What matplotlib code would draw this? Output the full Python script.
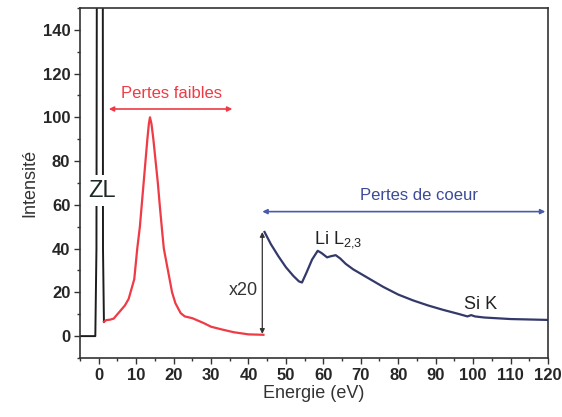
import matplotlib
matplotlib.use("Agg")
import matplotlib.pyplot as plt
from matplotlib.ticker import MultipleLocator

plt.rcParams['font.family'] = ['Liberation Sans', 'DejaVu Sans']
plt.rcParams['mathtext.fontset'] = 'custom'
plt.rcParams['mathtext.rm'] = 'Liberation Sans'
plt.rcParams['mathtext.it'] = 'Liberation Sans'

# zero loss peak (black)
zl_x = [-5, -0.9, -0.6, -0.5, 1.1, 1.15, 1.4]
zl_y = [0, 0, 40, 160, 160, 40, 6.5]

# low loss region (red)
low_x = [1.4, 2, 3, 4, 5, 6, 7, 8, 8.5, 9.5, 10.3, 11, 11.5, 12, 12.5, 13, 13.4, 13.7, 14.1, 14.6, 15.2, 15.8, 16.3, 17, 17.4, 18.5, 19.6, 20.5, 21.9, 23, 25, 28, 30, 33, 36, 40, 44]
low_y = [6.5, 7.3, 7.5, 8, 10, 12, 14, 17, 20, 26, 40, 50, 60, 70, 80, 90, 97, 100, 97, 90, 80, 70, 60, 47, 40, 30, 20, 15, 10.5, 9, 8.2, 6, 4.3, 3, 1.8, 0.8, 0.6]

# core loss region x20 (blue)
core_x = [44.3, 46, 48, 50, 52, 53.5, 54.3, 55.5, 57, 58.5, 59.5, 61, 62, 63.3, 64.5, 66, 68, 70, 73, 76, 80, 84, 88, 92, 96, 98.5, 99.5, 100.5, 103, 106, 110, 115, 120]
core_y = [47.6, 42, 36.5, 31.5, 27.5, 25, 24.5, 29, 35, 39, 38, 36, 36.5, 37, 35.5, 33, 30.5, 28.5, 25.5, 22.5, 19, 16.3, 14, 12, 10.2, 9, 9.6, 9, 8.5, 8.2, 7.8, 7.6, 7.4]

fig = plt.figure(figsize=(5.62, 4.17), dpi=100)
ax = fig.add_axes([0.1423, 0.1415, 0.8327, 0.8395])

ax.plot(zl_x, zl_y, color='#1c1c1c', lw=1.4, zorder=2)
ax.plot(low_x, low_y, color='#ee3b45', lw=1.6, zorder=2)
ax.plot(core_x, core_y, color='#33396a', lw=1.6, zorder=2)

ax.set_xlim(-5, 120)
ax.set_ylim(-10, 150)
ax.xaxis.set_major_locator(MultipleLocator(10))
ax.xaxis.set_minor_locator(MultipleLocator(5))
ax.yaxis.set_minor_locator(MultipleLocator(10))
ax.set_yticks(range(0, 141, 20))
ax.tick_params(which='major', direction='out', length=4, width=1, color='#333333',
               labelsize=12, labelcolor='#262626', pad=3)
ax.tick_params(which='minor', direction='out', length=2.5, width=1, color='#333333')
for lab in ax.get_xticklabels() + ax.get_yticklabels():
    lab.set_fontweight('bold')
for s in ax.spines.values():
    s.set_color('#333333')
    s.set_linewidth(1.2)

ax.set_xlabel('Energie (eV)', fontsize=13, color='#333333', labelpad=2)
ax.set_ylabel('Intensité', fontsize=13, color='#333333', labelpad=3)

# annotations
ax.annotate('', xy=(2.7, 103.8), xytext=(35.7, 103.8),
            arrowprops=dict(arrowstyle='<|-|>', color='#ee3b45', lw=1.2, mutation_scale=7,
                            shrinkA=0, shrinkB=0))
ax.text(19.5, 107.5, 'Pertes faibles', color='#ee3b45', fontsize=12, ha='center', va='bottom')

ax.annotate('', xy=(43.7, 56.9), xytext=(119.3, 56.9),
            arrowprops=dict(arrowstyle='<|-|>', color='#4a5aa8', lw=1.2, mutation_scale=7,
                            shrinkA=0, shrinkB=0))
ax.text(85.5, 61, 'Pertes de coeur', color='#3c4a98', fontsize=12, ha='center', va='bottom')

ax.annotate('', xy=(43.7, 47.6), xytext=(43.7, 1.0),
            arrowprops=dict(arrowstyle='<|-|>', color='#333333', lw=0.9, mutation_scale=7,
                            shrinkA=0, shrinkB=0))
ax.text(42.5, 21, 'x20', color='#333333', fontsize=13, ha='right', va='center')

ax.text(1.0, 66.5, 'ZL', color='#1c2a24', fontsize=17, ha='center', va='center', zorder=5,
        bbox=dict(facecolor='white', edgecolor='none', pad=3))
ax.text(57.5, 42.5, 'Li L$_{2{,}3}$', color='#222222', fontsize=13, ha='left', va='baseline')
ax.text(97.5, 12.5, 'Si K', color='#222222', fontsize=13, ha='left', va='baseline')

fig.savefig('out.png', dpi=100)
